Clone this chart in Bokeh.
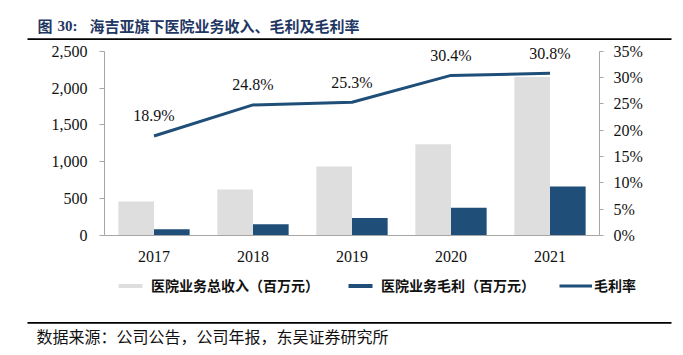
from bokeh.plotting import figure
from bokeh.layouts import column
from bokeh.models import (Range1d, FactorRange, LinearAxis, FixedTicker, NumeralTickFormatter,
                          PrintfTickFormatter, ColumnDataSource, LabelSet, Label,
                          Legend, LegendItem)
from bokeh.transform import dodge
from bokeh.embed import file_html
from bokeh.resources import INLINE

years = ["2017", "2018", "2019", "2020", "2021"]
revenue = [461, 624, 936, 1238, 2150]          # 医院业务总收入（百万元）
gross_profit = [85, 153, 236, 376, 665]        # 医院业务毛利（百万元）
gross_margin = [18.9, 24.8, 25.3, 30.4, 30.8]  # 毛利率 (%)
left_ticks = [0, 500, 1000, 1500, 2000, 2500]
right_ticks = [0, 5, 10, 15, 20, 25, 30, 35]

title_prefix = "图"
title_num = "30:"
title_main = "海吉亚旗下医院业务收入、毛利及毛利率"
source_text = "数据来源：公司公告，公司年报，东吴证券研究所"
legend_names = ["医院业务总收入（百万元）", "医院业务毛利（百万元）", "毛利率"]

GRAY = "#dedede"
BLUE = "#1f4e79"
AXIS = "#a6a6a6"
SERIF = "Liberation Serif"
CJK = "Noto Sans CJK SC"
W = 675

def blank_fig(h, y0, y1):
    f = figure(width=W, height=h, x_range=Range1d(0, W), y_range=Range1d(y1, y0),
               output_backend="svg", toolbar_location=None,
               x_axis_location=None, y_axis_location=None, frame_align=False,
               min_border_left=0, min_border_right=0, min_border_top=0, min_border_bottom=0)
    f.outline_line_color = None
    f.xgrid.visible = False
    f.ygrid.visible = False
    return f

# ---------- top: title + rule ----------
top = blank_fig(41, 0, 41)
for txt, x, font in [(title_prefix, 37, CJK), (title_num, 57, SERIF), (title_main, 89, CJK)]:
    top.add_layout(Label(x=x, y=25, text=txt, text_font=font, text_font_size="15px",
                         text_font_style="bold", text_color="#1f3763",
                         text_baseline="middle", text_align="left"))
top.quad(left=[27], right=[671], top=[37.7], bottom=[39.4], fill_color="black", line_color=None)

# ---------- main chart ----------
src = ColumnDataSource(dict(
    year=years, revenue=revenue, gp=gross_profit, gm=gross_margin,
    gm_label=[f"{v:.1f}%" for v in gross_margin],
))

p = figure(width=W, height=229, x_range=FactorRange(*years), y_range=Range1d(0, 2631.6),
           output_backend="svg", toolbar_location=None, frame_align=False,
           min_border_left=104, min_border_right=W - 599, min_border_top=0, min_border_bottom=35)
p.extra_y_ranges = {"right": Range1d(0, 36.84)}
p.outline_line_color = None
p.xgrid.visible = False
p.ygrid.visible = False

p.xaxis.axis_line_color = AXIS
p.xaxis.major_tick_line_color = None
p.xaxis.minor_tick_line_color = None
p.xaxis.major_label_text_font = SERIF
p.xaxis.major_label_text_font_size = "16px"
p.xaxis.major_label_text_color = "#111111"
p.xaxis.major_label_standoff = 9

p.yaxis.ticker = FixedTicker(ticks=left_ticks)
p.yaxis.bounds = (0, 2500)
p.yaxis.formatter = NumeralTickFormatter(format="0,0")
p.yaxis.axis_line_color = AXIS
p.yaxis.major_tick_line_color = AXIS
p.yaxis.major_tick_out = 5
p.yaxis.major_tick_in = 0
p.yaxis.minor_tick_line_color = None
p.yaxis.major_label_text_font = SERIF
p.yaxis.major_label_text_font_size = "16px"
p.yaxis.major_label_text_color = "#111111"
p.yaxis.major_label_standoff = 12

ra = LinearAxis(y_range_name="right", ticker=FixedTicker(ticks=right_ticks),
                formatter=PrintfTickFormatter(format="%d%%"), bounds=(0, 35))
ra.axis_line_color = AXIS
ra.major_tick_line_color = AXIS
ra.major_tick_out = 4
ra.major_tick_in = 0
ra.minor_tick_line_color = None
ra.major_label_text_font = SERIF
ra.major_label_text_font_size = "16px"
ra.major_label_text_color = "#111111"
ra.major_label_standoff = 10
p.add_layout(ra, "right")

p.vbar(x=dodge("year", -0.18, range=p.x_range), top="revenue", width=0.36,
       source=src, fill_color=GRAY, line_color=None)
p.vbar(x=dodge("year", 0.18, range=p.x_range), top="gp", width=0.36,
       source=src, fill_color=BLUE, line_color=None)
p.line(x="year", y="gm", source=src, y_range_name="right",
       line_color=BLUE, line_width=3, line_join="round")

p.add_layout(LabelSet(x="year", y="gm", text="gm_label", source=src, y_range_name="right",
                      text_align="center", text_baseline="middle", y_offset=20,
                      text_font=SERIF, text_font_size="16px", text_color="#111111"))

# ---------- bottom: legend + rule + source ----------
bot = blank_fig(77, 270, 347)
# legend-only renderers (hidden; they only supply the legend swatches' styles)
lg_rev = bot.vbar(x=[0], top=[0], width=1, fill_color=GRAY, line_color=None, visible=False)
lg_gp = bot.vbar(x=[0], top=[0], width=1, fill_color=BLUE, line_color=None, visible=False)
lg_gm = bot.line(x=[0], y=[0], line_color=BLUE, line_width=3, visible=False)

def add_legend(name, renderer, vx, gw, standoff):
    lg = Legend(items=[LegendItem(label=name, renderers=[renderer])],
                location=(vx, 52), orientation="horizontal",
                glyph_width=gw, glyph_height=5, label_standoff=standoff,
                padding=0, margin=0, spacing=0,
                border_line_alpha=0, background_fill_alpha=0,
                inactive_fill_alpha=0,
                label_text_font=CJK, label_text_font_size="14px",
                label_text_font_style="bold", label_text_color="#111111")
    bot.add_layout(lg, "center")

add_legend(legend_names[0], lg_rev, 115, 30, 6)
add_legend(legend_names[1], lg_gp, 345, 30, 6)
add_legend(legend_names[2], lg_gm, 559, 33, 2)

bot.quad(left=[27], right=[671], top=[321.5], bottom=[323.2], fill_color="black", line_color=None)
bot.add_layout(Label(x=36, y=335, text=source_text, text_font=CJK, text_font_size="16px",
                     text_color="#111111", text_baseline="middle", text_align="left"))

layout = column(top, p, bot, spacing=0)
open("out.html", "w").write(file_html(layout, INLINE))
